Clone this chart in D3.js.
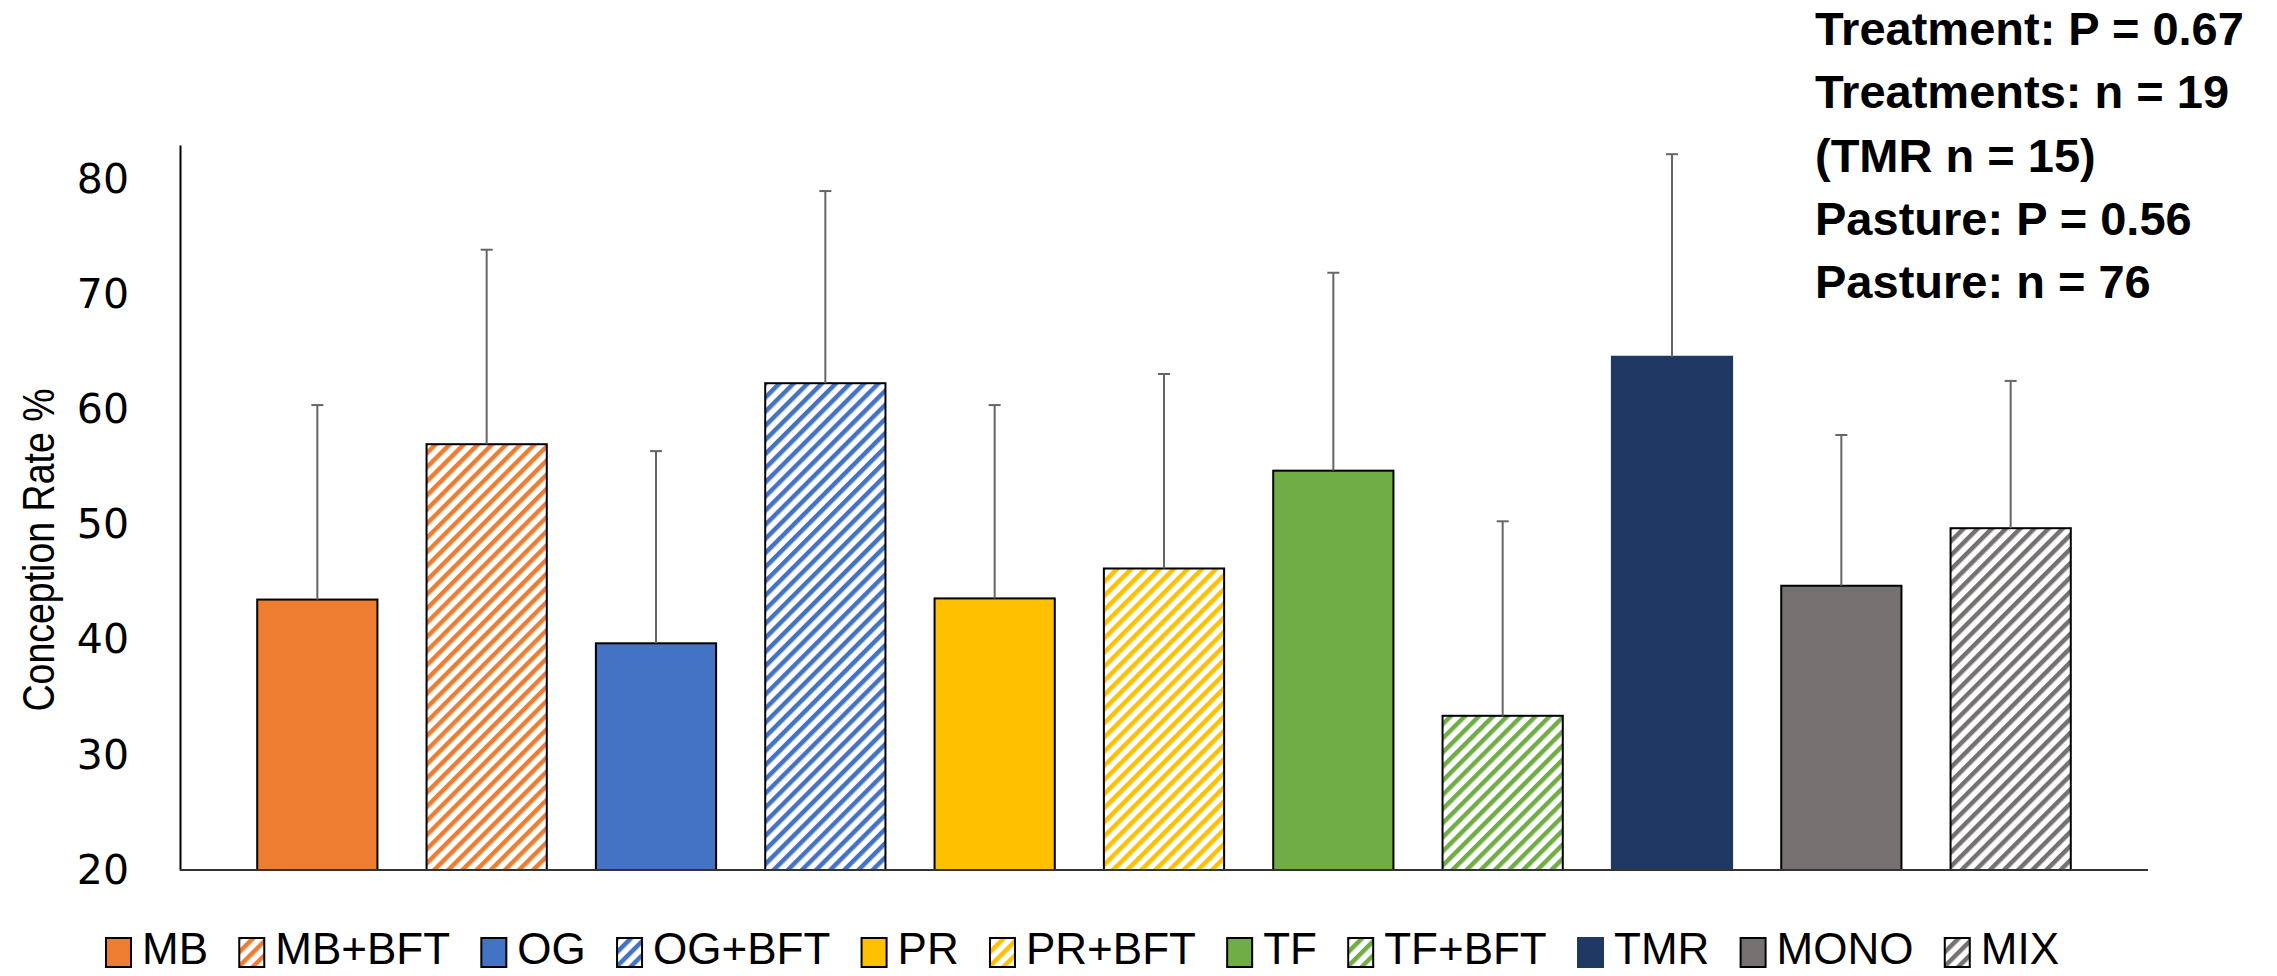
<!DOCTYPE html>
<html>
<head>
<meta charset="utf-8">
<script src="https://cdn.jsdelivr.net/npm/d3@7"></script>
<style>
    body { margin: 0; background: #fff; }
    svg { display: block; }
</style>
</head>
<body>
<div id="chart"></div>
<script>
// values
const categories = ["MB", "MB+BFT", "OG", "OG+BFT", "PR", "PR+BFT", "TF", "TF+BFT", "TMR", "MONO", "MIX"]
const means = [43.5, 57.0, 39.7, 62.3, 43.6, 46.2, 54.7, 33.4, 64.6, 44.7, 49.7]
const upperErr = [16.9, 16.9, 16.7, 16.7, 16.8, 16.9, 17.2, 16.9, 17.6, 13.1, 12.8]
const yTicks = [20, 30, 40, 50, 60, 70, 80]
const notes = [
    "Treatment: P = 0.67",
    "Treatments: n = 19",
    "(TMR n = 15)",
    "Pasture: P = 0.56",
    "Pasture: n = 76",
]

const width = 2277
const height = 976

const colors = {
    "MB": "#ED7D31", "MB+BFT": "#ED7D31",
    "OG": "#4472C4", "OG+BFT": "#4472C4",
    "PR": "#FFC000", "PR+BFT": "#FFC000",
    "TF": "#70AD47", "TF+BFT": "#70AD47",
    "TMR": "#1F3864",
    "MONO": "#767171", "MIX": "#767171",
}
let hatched = (c) => c.endsWith("+BFT") || c === "MIX"
let patId = (c) => "hatch-" + c.replace(/[^A-Za-z]/g, "")

const svg = d3.select("#chart")
    .append("svg")
    .attr("width", width)
    .attr("height", height)
    .attr("viewBox", [0, 0, width, height])

// diagonal stripe patterns
const defs = svg.append("defs")
for (let c of categories.filter(hatched)) {
    let p = defs.append("pattern")
        .attr("id", patId(c))
        .attr("patternUnits", "userSpaceOnUse")
        .attr("width", 10)
        .attr("height", 10)
        .attr("patternTransform", "rotate(45)")
    p.append("rect").attr("width", 10).attr("height", 10).attr("fill", "#fff")
    p.append("rect").attr("width", 4.5).attr("height", 10).attr("fill", colors[c])
}
let fillFor = (c) => hatched(c) ? `url(#${patId(c)})` : colors[c]
let strokeFor = (c) => c === "TMR" ? "#1F3864" : "#000"

const x = d3.scaleBand()
    .domain(categories)
    .range([180, 2148])
    .paddingInner(0.29)
    .paddingOuter(0.456)

const y = d3.scaleLinear()
    .domain([20, 83])
    .range([870, 145])

// bars
svg.append("g")
    .selectAll("rect")
    .data(categories)
    .join("rect")
    .attr("x", (d) => x(d))
    .attr("y", (d, i) => y(means[i]))
    .attr("width", x.bandwidth())
    .attr("height", (d, i) => y(20) - y(means[i]))
    .attr("fill", fillFor)
    .attr("stroke", strokeFor)
    .attr("stroke-width", 2)

// error bars (upper only)
const eb = svg.append("g")
    .attr("stroke", "#666")
    .attr("stroke-width", 2)
eb.selectAll("line.v")
    .data(categories)
    .join("line")
    .attr("class", "v")
    .attr("x1", (d) => x(d) + x.bandwidth() / 2)
    .attr("x2", (d) => x(d) + x.bandwidth() / 2)
    .attr("y1", (d, i) => y(means[i]))
    .attr("y2", (d, i) => y(means[i] + upperErr[i]))
eb.selectAll("line.cap")
    .data(categories)
    .join("line")
    .attr("class", "cap")
    .attr("x1", (d) => x(d) + x.bandwidth() / 2 - 6)
    .attr("x2", (d) => x(d) + x.bandwidth() / 2 + 6)
    .attr("y1", (d, i) => y(means[i] + upperErr[i]))
    .attr("y2", (d, i) => y(means[i] + upperErr[i]))

// axes
const yAxis = svg.append("g")
    .attr("transform", "translate(180,0)")
    .call(d3.axisLeft(y).tickValues(yTicks).tickSize(0).tickSizeOuter(0).tickPadding(51))
yAxis.select(".domain").attr("stroke", "#000").attr("stroke-width", 2)
yAxis.selectAll("text")
    .attr("font-family", "'DejaVu Sans', sans-serif")
    .attr("font-size", 41)
    .attr("fill", "#000")

svg.append("line")
    .attr("x1", 180)
    .attr("x2", 2148)
    .attr("y1", y(20))
    .attr("y2", y(20))
    .attr("stroke", "#333")
    .attr("stroke-width", 2)

svg.append("text")
    .attr("transform", `translate(54,550) rotate(-90)`)
    .attr("text-anchor", "middle")
    .attr("font-family", "'Liberation Sans', Arial, sans-serif")
    .attr("font-size", 44)
    .attr("textLength", 323)
    .attr("lengthAdjust", "spacingAndGlyphs")
    .text("Conception Rate %")

// stats annotation
svg.append("g")
    .selectAll("text")
    .data(notes)
    .join("text")
    .attr("x", 1815)
    .attr("y", (d, i) => 45 + i * 63.3)
    .attr("font-family", "'Liberation Sans', Arial, sans-serif")
    .attr("font-weight", "bold")
    .attr("font-size", 47)
    .text((d) => d)

// legend, spread over the same span as the original
const legendLeft = 105
const legendRight = 2059
const legend = svg.append("g").attr("transform", "translate(0,950)")
let items = categories.map((c) => {
    let g = legend.append("g")
    g.append("rect")
        .attr("x", 1)
        .attr("y", -12)
        .attr("width", 25)
        .attr("height", 29)
        .attr("fill", fillFor(c))
        .attr("stroke", strokeFor(c))
        .attr("stroke-width", 2)
    let t = g.append("text")
        .attr("x", 37)
        .attr("y", 14)
        .attr("font-family", "'Liberation Sans', Arial, sans-serif")
        .attr("font-size", 44)
        .text(c)
    return {g, w: 37 + t.node().getComputedTextLength()}
})
let total = d3.sum(items, (d) => d.w)
let gap = (legendRight - legendLeft - total) / (items.length - 1)
let lx = legendLeft
for (let it of items) {
    it.g.attr("transform", `translate(${lx},0)`)
    lx += it.w + gap
}
</script>
</body>
</html>
